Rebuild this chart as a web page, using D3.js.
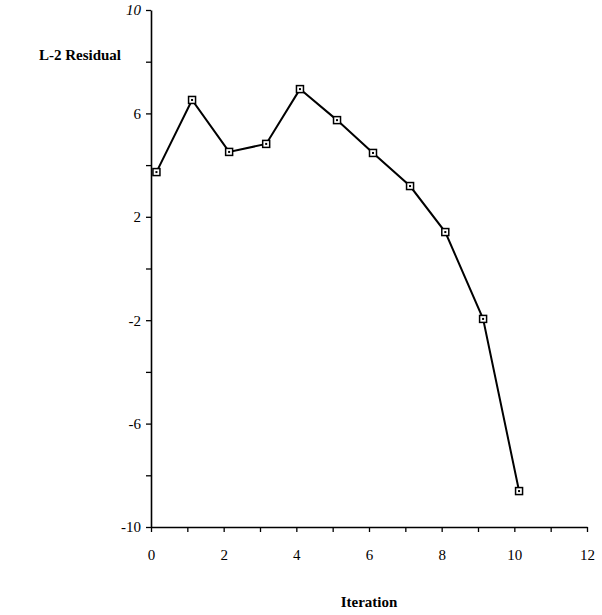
<!DOCTYPE html>
<html>
<head>
<meta charset="utf-8">
<style>
    body { margin: 0; background: #fff; }
    text { font-family: "Liberation Serif", "Times New Roman", serif; fill: #000; }
</style>
</head>
<body>
<script src="https://d3js.org/d3.v7.min.js"></script>
<script>
// data
const iterations = [0.15, 1.13, 2.15, 3.17, 4.1, 5.12, 6.11, 7.13, 8.1, 9.14, 10.13];
const residuals = [3.73, 6.52, 4.51, 4.82, 6.94, 5.74, 4.47, 3.19, 1.41, -1.95, -8.61];
const xTicks = [0,1,2,3,4,5,6,7,8,9,10,11,12];
const xLabels = [0,2,4,6,8,10,12];
const yTicks = [-10,-8,-6,-4,-2,0,2,4,6,8,10];
const yLabels = [10,6,2,-2,-6,-10];

const W = 602, H = 615;
const svg = d3.select("body").append("svg")
    .attr("width", W)
    .attr("height", H);

const x = d3.scaleLinear().domain([0, 12]).range([151, 587]);
const y = d3.scaleLinear().domain([-10, 10]).range([527, 10]);

// x axis
const xAxis = svg.append("g")
    .attr("transform", "translate(0," + y(-10) + ")")
    .call(d3.axisBottom(x).tickValues(xTicks).tickSize(5).tickSizeOuter(0)
        .tickFormat(d => xLabels.includes(d) ? d : ""));
xAxis.select(".domain").attr("stroke-width", 1.6);
xAxis.selectAll(".tick line").attr("stroke-width", 1.3);
xAxis.selectAll("text")
    .attr("font-size", 15)
    .attr("y", 22)
    .attr("dy", "0.71em")
    .style("font-family", "Liberation Serif, serif");

// y axis
const yAxis = svg.append("g")
    .attr("transform", "translate(" + x(0) + ",0)")
    .call(d3.axisLeft(y).tickValues(yTicks).tickSize(5).tickSizeOuter(0)
        .tickFormat(d => yLabels.includes(d) ? d : ""));
yAxis.select(".domain").attr("stroke-width", 1.6);
yAxis.selectAll(".tick line").attr("stroke-width", 1.3);
yAxis.selectAll("text")
    .attr("font-size", 15)
    .attr("x", -10)
    .style("font-family", "Liberation Serif, serif")
    .style("font-style", d => d === 10 ? "italic" : "normal");

// line
const pts = iterations.map((d, i) => [d, residuals[i]]);
svg.append("path")
    .datum(pts)
    .attr("fill", "none")
    .attr("stroke", "#000")
    .attr("stroke-width", 2)
    .attr("d", d3.line().x(d => x(d[0])).y(d => y(d[1])));

// markers
const m = svg.selectAll(".pt").data(pts).enter().append("g")
    .attr("transform", d => "translate(" + x(d[0]) + "," + y(d[1]) + ")");
m.append("rect")
    .attr("x", -3.5).attr("y", -3.5).attr("width", 7).attr("height", 7)
    .attr("fill", "#fff").attr("stroke", "#000").attr("stroke-width", 1.5);
m.append("rect")
    .attr("x", -1).attr("y", -1).attr("width", 2).attr("height", 2)
    .attr("fill", "#000");

// titles
svg.append("text")
    .attr("x", 121).attr("y", 60)
    .attr("text-anchor", "end")
    .attr("font-size", 15).attr("font-weight", "bold")
    .text("L-2 Residual");

svg.append("text")
    .attr("x", 369).attr("y", 607)
    .attr("text-anchor", "middle")
    .attr("font-size", 15).attr("font-weight", "bold")
    .text("Iteration");
</script>
</body>
</html>
